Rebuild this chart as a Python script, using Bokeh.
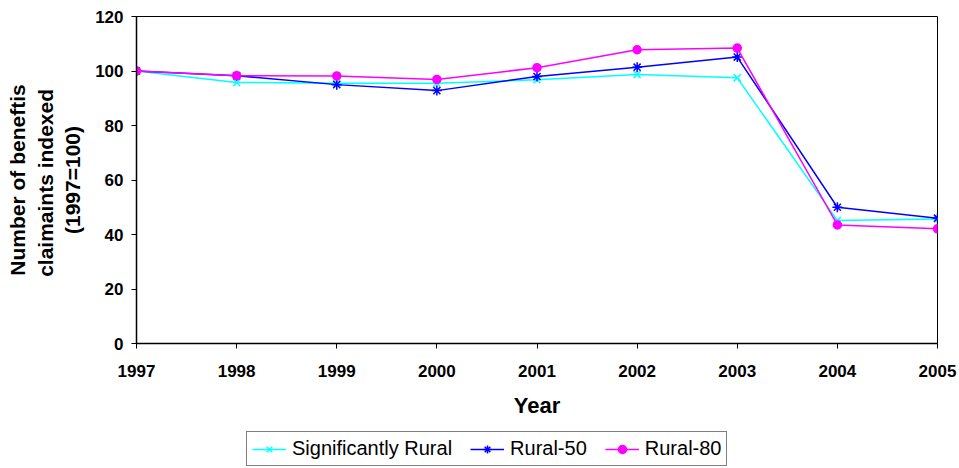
from bokeh.plotting import figure
from bokeh.models import Legend, LegendItem, Range1d, FixedTicker
from bokeh.layouts import column
from bokeh.embed import file_html
from bokeh.resources import INLINE

years = [1997, 1998, 1999, 2000, 2001, 2002, 2003, 2004, 2005]
sig_rural = [100, 95.8, 95.5, 95.5, 96.8, 98.7, 97.5, 45.1, 45.7]
rural_50 = [100, 98.3, 95.0, 92.8, 98.0, 101.4, 105.1, 50.0, 46.0]
rural_80 = [100, 98.3, 98.2, 96.9, 101.2, 107.8, 108.4, 43.5, 42.1]
y_ticks = [0, 20, 40, 60, 80, 100, 120]
series = [
    ("Significantly Rural", sig_rural, "#00FFFF", "x", 10),
    ("Rural-50", rural_50, "#0000FF", "asterisk", 10),
    ("Rural-80", rural_80, "#FF00FF", "circle", 8),
]

FONT = "Liberation Sans"

p = figure(width=959, height=424, output_backend="svg", toolbar_location=None,
           x_range=Range1d(1997, 2005), y_range=Range1d(0, 120),
           min_border_left=136, min_border_top=16, min_border_right=22, min_border_bottom=81)
p.background_fill_color = "white"
p.border_fill_color = "white"
p.outline_line_color = "black"
p.outline_line_width = 1
p.grid.visible = False

for ax in (p.xaxis[0], p.yaxis[0]):
    ax.axis_line_color = "black"
    ax.axis_line_width = 1.5
    ax.major_tick_line_color = "black"
    ax.major_tick_out = 5
    ax.major_tick_in = 0
    ax.minor_tick_line_color = None
    ax.major_label_text_font = FONT
    ax.major_label_text_font_style = "bold"
    ax.major_label_text_font_size = "17px"
    ax.major_label_text_color = "black"
    ax.axis_label_text_font = FONT
    ax.axis_label_text_font_style = "bold"
    ax.axis_label_text_color = "black"

p.xaxis.ticker = FixedTicker(ticks=years)
p.yaxis.ticker = FixedTicker(ticks=y_ticks)
p.xaxis.major_label_standoff = 16
p.yaxis.major_label_standoff = 8
p.xaxis.axis_label = "Year"
p.xaxis.axis_label_text_font_size = "22px"
p.xaxis.axis_label_standoff = 13
p.yaxis.axis_label = "Number of beneftis\nclaimaints  indexed\n(1997=100)"
p.yaxis.axis_label_text_font_size = "21px"
p.yaxis.axis_label_standoff = 8

for name, vals, col, mk, sz in series:
    p.line(years, vals, line_color=col, line_width=1.5)
    p.scatter(years, vals, marker=mk, size=sz, line_color=col, fill_color=col, line_width=1.5)

# legend strip below the chart (its frame is aligned with the chart's frame)
lf = figure(width=959, height=44, output_backend="svg", toolbar_location=None,
            x_range=Range1d(0, 1), y_range=Range1d(0, 1),
            min_border_left=0, min_border_right=0, min_border_top=0, min_border_bottom=0)
lf.axis.visible = False
lf.grid.visible = False
lf.outline_line_color = None
lf.background_fill_color = "white"
lf.border_fill_color = "white"

items = []
for name, vals, col, mk, sz in series:
    lr = lf.line(years, vals, line_color=col, line_width=1.5)
    ls = lf.scatter(years, vals, marker=mk, size=sz, line_color=col, fill_color=col, line_width=1.5)
    items.append(LegendItem(label=name, renderers=[lr, ls]))

legend = Legend(items=items, orientation="horizontal", location=(110, 2))
legend.label_text_font = FONT
legend.label_text_font_size = "20px"
legend.label_text_color = "black"
legend.border_line_color = "black"
legend.border_line_width = 1
legend.padding = 5
legend.margin = 0
legend.spacing = 18
legend.glyph_width = 34
legend.glyph_height = 20
legend.label_standoff = 6
legend.label_height = 20
legend.background_fill_alpha = 1
lf.add_layout(legend)

layout = column(p, lf, spacing=0)
open("out.html", "w").write(file_html(layout, INLINE))
